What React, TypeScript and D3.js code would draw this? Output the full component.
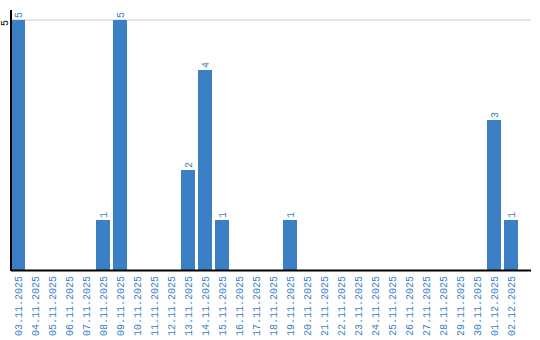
import React from "react";
import * as d3 from "d3";

const categories = [
  "03.11.2025","04.11.2025","05.11.2025","06.11.2025","07.11.2025","08.11.2025",
  "09.11.2025","10.11.2025","11.11.2025","12.11.2025","13.11.2025","14.11.2025",
  "15.11.2025","16.11.2025","17.11.2025","18.11.2025","19.11.2025","20.11.2025",
  "21.11.2025","22.11.2025","23.11.2025","24.11.2025","25.11.2025","26.11.2025",
  "27.11.2025","28.11.2025","29.11.2025","30.11.2025","01.12.2025","02.12.2025",
];
const values = [5,0,0,0,0,1,5,0,0,0,2,4,1,0,0,0,1,0,0,0,0,0,0,0,0,0,0,0,3,1];
const yTicks = [5];

const W = 540, H = 340;
const left = 11, top = 20, bottom = 270;
const color = "#3b7fc4";
const font = "'Liberation Mono', monospace";

export default function App() {
  const x = d3.scaleBand<string>().domain(categories).range([left, left + 17 * categories.length - 3]).paddingInner(3 / 17).paddingOuter(0).align(0);
  const y = d3.scaleLinear().domain([0, 5]).range([bottom, top]);
  const bw = x.bandwidth();
  return (
    <svg width={W} height={H} style={{ position: "absolute", left: 0, top: 0 }}>
      {yTicks.map(t => (
        <g key={t}>
          <line x1={left} x2={531} y1={y(t)} y2={y(t)} stroke="#cccccc" strokeWidth={1} />
          <text transform={`translate(7.5,${y(t)}) rotate(-90)`} textAnchor="end" fontFamily={font} fontSize={10} fill="#000">{t}</text>
        </g>
      ))}
      {categories.map((c, i) => {
        const v = values[i];
        const x0 = x(c) as number;
        const cx = x0 + bw / 2;
        return (
          <g key={c}>
            {v > 0 && <rect x={x0} y={y(v)} width={bw} height={bottom - y(v)} fill={color} />}
            {v > 0 && (
              <text transform={`translate(${cx + 3.5},${y(v) - 2}) rotate(-90)`} textAnchor="start" fontFamily={font} fontSize={10} fill={color}>{v}</text>
            )}
            <text transform={`translate(${cx + 3.5},${bottom + 6}) rotate(-90)`} textAnchor="end" fontFamily={font} fontSize={10} fill={color}>{c}</text>
          </g>
        );
      })}
      <line x1={left} x2={left} y1={10} y2={bottom + 1} stroke="#000" strokeWidth={2} />
      <line x1={left} x2={531} y1={bottom + 0.5} y2={bottom + 0.5} stroke="#000" strokeWidth={2} />
    </svg>
  );
}
